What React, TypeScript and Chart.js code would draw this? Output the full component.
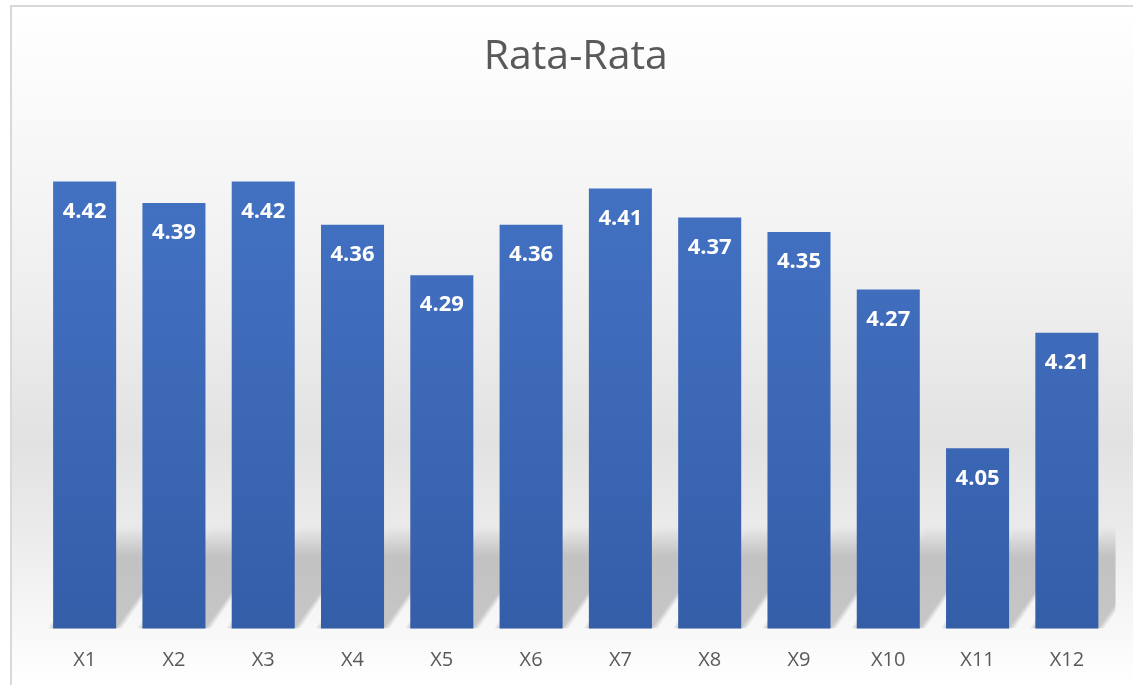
import React, { useEffect, useRef } from "react";
import { Chart, registerables } from "chart.js";

Chart.register(...registerables);

const categories = ["X1", "X2", "X3", "X4", "X5", "X6", "X7", "X8", "X9", "X10", "X11", "X12"];
const values = [4.42, 4.39, 4.42, 4.36, 4.29, 4.36, 4.41, 4.37, 4.35, 4.27, 4.05, 4.21];
const yMin = 3.8;
const yMax = 4.5;
const chartTitle = "Rata-Rata";

const W = 1133;
const H = 685;

const backgroundPlugin = {
  id: "bgPlugin",
  beforeDraw(chart: any) {
    const ctx = chart.ctx;
    ctx.save();
    ctx.fillStyle = "#ffffff";
    ctx.fillRect(0, 0, W, H);
    const g = ctx.createLinearGradient(0, 6, 0, H);
    g.addColorStop(0, "#ffffff");
    g.addColorStop(150 / H, "#f7f7f7");
    g.addColorStop(300 / H, "#eeeeee");
    g.addColorStop(440 / H, "#e2e2e2");
    g.addColorStop(530 / H, "#ebebeb");
    g.addColorStop(620 / H, "#f7f7f7");
    g.addColorStop(1, "#ffffff");
    ctx.fillStyle = g;
    ctx.fillRect(11, 7, W - 11, H - 7);
    ctx.restore();
  },
  beforeDatasetsDraw(chart: any) {
    const ctx = chart.ctx;
    const meta = chart.getDatasetMeta(0);
    const area = chart.chartArea;
    const yScale = chart.scales.y;
    ctx.save();
    ctx.beginPath();
    ctx.rect(area.left - 20, area.top, area.right - area.left + 24, area.bottom - area.top);
    ctx.clip();
    const layers = 4;
    meta.data.forEach((bar: any, i: number) => {
      const cx = bar.x;
      const bw = bar.width;
      const bottom = area.bottom;
      const top = yScale.getPixelForValue(values[i]);
      const h = Math.min(100, (bottom - top) * 0.55);
      const dx = h * 0.72;
      for (let k = 0; k < layers; k++) {
        const e = k * 1.8;
        const g = ctx.createLinearGradient(0, bottom - h - e, 0, bottom);
        g.addColorStop(0, "rgba(0,0,0,0)");
        g.addColorStop(0.3, "rgba(0,0,0,0.05)");
        g.addColorStop(1, "rgba(0,0,0,0.055)");
        ctx.fillStyle = g;
        ctx.beginPath();
        ctx.moveTo(cx - bw / 2 - e, bottom);
        ctx.lineTo(cx + bw / 2 + e, bottom);
        ctx.lineTo(cx + bw / 2 + dx + e, bottom - h - e);
        ctx.lineTo(cx - bw / 2 + dx - e, bottom - h - e);
        ctx.closePath();
        ctx.fill();
      }
    });
    ctx.restore();
  },
};

const labelPlugin = {
  id: "labelPlugin",
  afterDatasetsDraw(chart: any) {
    const ctx = chart.ctx;
    const meta = chart.getDatasetMeta(0);
    const yScale = chart.scales.y;
    ctx.save();
    ctx.fillStyle = "#ffffff";
    ctx.font = "bold 22px 'Open Sans', Lato, sans-serif";
    ctx.textAlign = "center";
    ctx.textBaseline = "middle";
    meta.data.forEach((bar: any, i: number) => {
      ctx.fillText(values[i].toFixed(2), bar.x, yScale.getPixelForValue(values[i]) + 30);
    });
    ctx.restore();
  },
};

export default function App() {
  const ref = useRef<HTMLCanvasElement | null>(null);
  useEffect(() => {
    if (!ref.current) return;
    const chart = new Chart(ref.current, {
      type: "bar",
      data: {
        labels: categories,
        datasets: [
          {
            data: values,
            backgroundColor: (c: any) => {
              const area = c.chart.chartArea;
              if (!area) return "#4472c4";
              const g = c.chart.ctx.createLinearGradient(0, area.top, 0, area.bottom);
              g.addColorStop(0, "#4574c6");
              g.addColorStop(1, "#355ea9");
              return g;
            },
            borderWidth: 0,
            categoryPercentage: 1,
            barPercentage: 0.706,
          },
        ],
      },
      options: {
        responsive: false,
        animation: false,
        devicePixelRatio: 1,
        layout: { padding: { left: 40, right: 21.5, top: 0, bottom: -7.6 } },
        plugins: {
          legend: { display: false },
          tooltip: { enabled: false },
          title: {
            display: true,
            text: chartTitle,
            color: "#595959",
            font: { size: 41, family: "'Open Sans', Lato, sans-serif", weight: "normal" },
            padding: { top: 33, bottom: 41.5 },
          },
        },
        scales: {
          x: {
            grid: { display: false, drawTicks: false },
            border: { display: false },
            ticks: {
              color: "#595959",
              font: { size: 20, family: "'Open Sans', Lato, sans-serif" },
              padding: 20,
            },
          },
          y: {
            display: false,
            min: yMin,
            max: yMax,
          },
        },
      },
      plugins: [backgroundPlugin, labelPlugin],
    });
    return () => chart.destroy();
  }, []);
  return (
    <div style={{ position: "fixed", left: 0, top: 0, width: W, height: H, overflow: "hidden", background: "#fff" }}>
      <canvas ref={ref} width={W} height={H} style={{ display: "block", width: W, height: H }} />
      <div
        style={{
          position: "absolute",
          left: 10,
          top: 5,
          width: W,
          height: H,
          borderTop: "2px solid #d9d9d9",
          borderLeft: "2px solid #d9d9d9",
          pointerEvents: "none",
        }}
      />
    </div>
  );
}
